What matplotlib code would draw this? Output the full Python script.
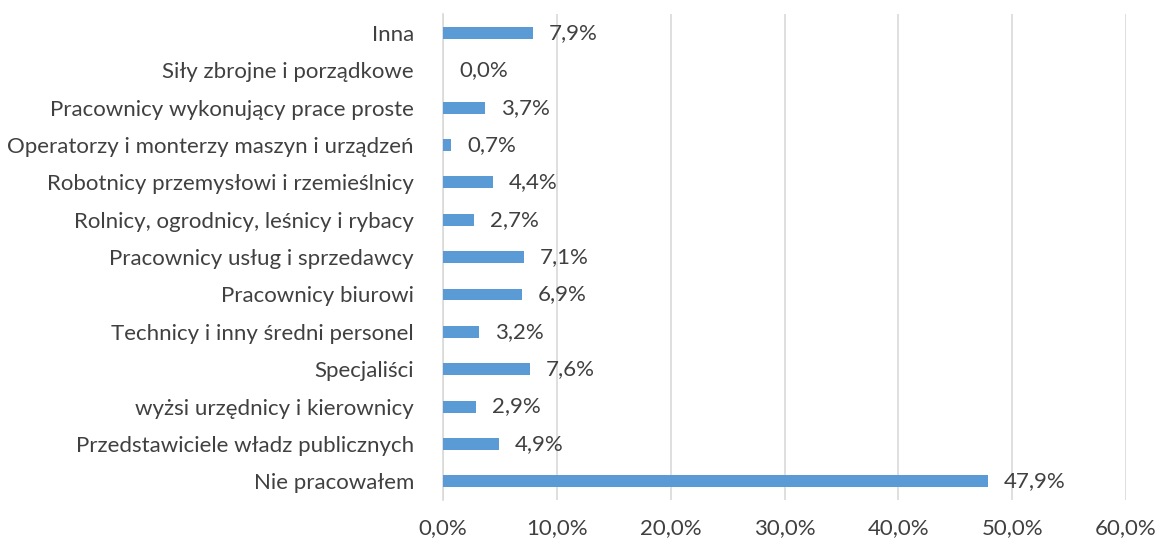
import matplotlib.pyplot as plt
from matplotlib.ticker import FuncFormatter

plt.rcParams['font.family'] = ['Lato', 'DejaVu Sans']

# Categories from bottom to top
categories = [
    'Nie pracowałem',
    'Przedstawiciele władz publicznych',
    'wyżsi urzędnicy i kierownicy',
    'Specjaliści',
    'Technicy i inny średni personel',
    'Pracownicy biurowi',
    'Pracownicy usług i sprzedawcy',
    'Rolnicy, ogrodnicy, leśnicy i rybacy',
    'Robotnicy przemysłowi i rzemieślnicy',
    'Operatorzy i monterzy maszyn i urządzeń',
    'Pracownicy wykonujący prace proste',
    'Siły zbrojne i porządkowe',
    'Inna',
]
values = [47.9, 4.9, 2.9, 7.6, 3.2, 6.9, 7.1, 2.7, 4.4, 0.7, 3.7, 0.0, 7.9]
xticks = [0, 10, 20, 30, 40, 50, 60]

bar_color = '#5B9BD5'
text_color = '#404040'

fig = plt.figure(figsize=(11.58, 5.41), dpi=100)
ax = fig.add_axes([0.3826, 0.0758, 0.5898, 0.8978])

pos = range(len(categories))
ax.barh(pos, values, height=0.32, color=bar_color, zorder=3)

for y, v in zip(pos, values):
    ax.text(v + 1.4, y, f'{v:.1f}%'.replace('.', ','), va='center', ha='left',
            fontsize=16, color=text_color)

ax.set_xlim(0, 60)
ax.set_ylim(-0.5, len(categories) - 0.5)
ax.set_xticks(xticks)
ax.xaxis.set_major_formatter(FuncFormatter(lambda x, _: f'{x:.1f}%'.replace('.', ',')))
ax.set_yticks(list(pos))
ax.set_yticklabels(categories)
ax.tick_params(axis='both', length=0, labelsize=16, colors=text_color)
ax.tick_params(axis='x', pad=13)
ax.tick_params(axis='y', pad=21)

ax.grid(axis='x', color='#D9D9D9', linewidth=1.2, zorder=0)
for s in ['top', 'right', 'bottom']:
    ax.spines[s].set_visible(False)
ax.spines['left'].set_color('#D9D9D9')
ax.spines['left'].set_linewidth(1.2)

fig.savefig('out.png', dpi=100)
